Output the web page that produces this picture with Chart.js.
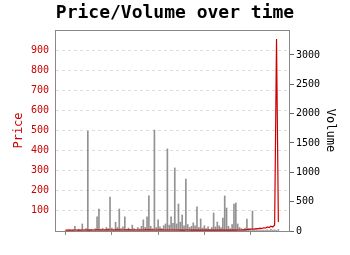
<!DOCTYPE html>
<html>
<head>
<meta charset="utf-8">
<script src="https://cdn.jsdelivr.net/npm/chart.js@4"></script>
<style>
html,body{margin:0;padding:0;background:#fff}
#wrap{width:350px;height:255px}
</style>
</head>
<body>
<div id="wrap"><canvas id="chart" width="350" height="255"></canvas></div>
<script>
// one sample every 2 days
const step=2
const price=[
4,4,5,4,4,5,5,4,4,5,5,5,4,4,5,5,5,6,6,5,
5,5,6,6,5,5,5,6,6,6,5,5,5,6,6,6,5,5,5,5,
5,5,5,6,6,6,6,5,5,5,5,6,6,5,5,5,5,5,5,5,
5,5,4,4,4,5,5,5,4,4,4,4,4,4,4,4,4,4,4,4,
4,4,4,4,4,4,4,4,4,4,4,4,4,5,5,5,6,6,7,8,
9,10,10,12,11,14,12,16,14,20,17,24,20,30,955,45
]
const volume=[
10,0,20,0,15,80,10,30,15,120,20,40,1705,25,30,15,40,240,375,30,
45,25,60,40,580,50,30,150,60,375,40,70,240,30,50,20,100,40,25,60,
35,80,190,60,240,600,80,40,1720,60,190,70,40,90,120,1400,100,240,130,1075,
120,460,150,273,90,886,110,60,80,140,90,410,60,205,50,90,40,70,30,60,
307,70,153,90,60,220,597,392,80,40,110,460,477,120,60,40,30,50,205,40,
20,341,30,15,10,20,10,15,5,20,10,30,15,20,10,25
]
const xTicks=[0,50,100,150,200]
const priceTicks=[100,200,300,400,500,600,700,800,900]
const volumeTicks=[0,500,1000,1500,2000,2500,3000]

const pts=arr=>arr.map((v,i)=>({x:i*step,y:v}))

Chart.defaults.font.family="'DejaVu Sans Mono', monospace"
Chart.defaults.color="#000"

const frameTop={
id:"frameTop",
afterDraw(c){
const a=c.chartArea,ctx=c.ctx
ctx.save()
ctx.strokeStyle="#888"
ctx.lineWidth=1
ctx.beginPath()
ctx.moveTo(a.left,a.top+0.5)
ctx.lineTo(a.right,a.top+0.5)
ctx.stroke()
ctx.restore()
}
}

new Chart(document.getElementById("chart"),{
type:"bar",
data:{
datasets:[
{
type:"line",
label:"Price",
data:pts(price),
yAxisID:"y",
borderColor:"#cc0000",
borderWidth:1.2,
pointRadius:0,
tension:0,
order:1
},
{
type:"bar",
label:"Volume",
data:pts(volume),
yAxisID:"y1",
backgroundColor:"rgba(100,100,100,0.7)",
barThickness:1,
order:2
}
]
},
options:{
responsive:false,
animation:false,
layout:{padding:0},
plugins:{
legend:{display:false},
tooltip:{enabled:false},
title:{
display:true,
text:"Price/Volume over time",
color:"#000",
font:{size:18,weight:"bold"},
padding:{top:3,bottom:5.4}
}
},
scales:{
x:{
type:"linear",
offset:false,
min:-11.5,
max:241.5,
afterBuildTicks:s=>{s.ticks=xTicks.map(v=>({value:v}))},
ticks:{display:false,autoSkip:false},
grid:{offset:false,drawOnChartArea:false,drawTicks:true,tickLength:4,color:"#888"},
border:{color:"#888"},
afterFit:s=>{s.height=24}
},
y:{
position:"left",
min:0,
max:1000,
afterBuildTicks:s=>{s.ticks=priceTicks.map(v=>({value:v}))},
ticks:{color:"#cc0000",font:{size:10},padding:6,autoSkip:false,callback:v=>String(v)},
grid:{color:"#dddddd",drawTicks:false},
border:{color:"#888",dash:[3,3]},
title:{display:true,text:"Price",color:"#cc0000",font:{size:12},padding:{top:12,bottom:0}},
afterFit:s=>{s.width=55}
},
y1:{
position:"right",
min:0,
max:3426,
afterBuildTicks:s=>{s.ticks=volumeTicks.map(v=>({value:v}))},
ticks:{color:"#000",font:{size:10},padding:2,autoSkip:false,callback:v=>String(v)},
grid:{drawOnChartArea:false,drawTicks:true,tickLength:5,color:"#666"},
border:{color:"#888"},
title:{display:true,text:"Volume",color:"#000",font:{size:12},padding:{top:13,bottom:0}},
afterFit:s=>{s.width=61}
}
}
},
plugins:[frameTop]
})
</script>
</body>
</html>
